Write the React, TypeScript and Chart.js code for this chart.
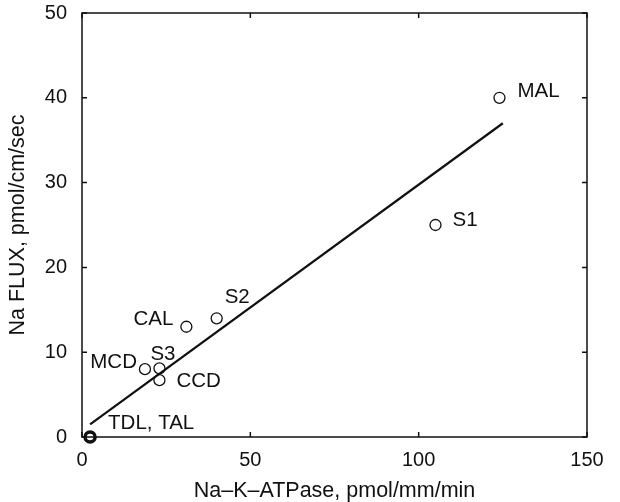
import React, { useEffect, useRef } from "react";
import { Chart, registerables } from "chart.js";

Chart.register(...registerables);

// ---- data ----
const segmentNames = ["MAL", "S1", "S2", "CAL", "MCD", "S3", "CCD", "TDL, TAL"];
const naKAtpase = [124, 105, 40, 31, 18.7, 23, 23, 2.4];
const naFlux = [40, 25, 14, 13, 8, 8.1, 6.7, 0];
const fitLineX = [2.4, 125];
const fitLineY = [1.5, 37];
const xTickValues = [0, 50, 100, 150];
const yTickValues = [0, 10, 20, 30, 40, 50];

// label placement relative to each point (style, not data)
const labelPlacement: [number, number, CanvasTextAlign][] = [
  [18, -6, "left"],
  [17, -5, "left"],
  [8, -21, "left"],
  [-13, -7, "right"],
  [-8, -7, "right"],
  [-9, -14, "left"],
  [17, 1, "left"],
  [18, -14, "left"],
];

const FONT = "'Liberation Sans', Arial, Helvetica, sans-serif";
const INK = "#111";

const framePlugin = {
  id: "frameTicks",
  afterDraw(chart: any) {
    const { ctx, chartArea } = chart;
    const { left, right, top, bottom } = chartArea;
    const xs = chart.scales.x;
    const ys = chart.scales.y;
    const tl = 5;
    ctx.save();
    ctx.strokeStyle = INK;
    ctx.lineWidth = 1.5;
    ctx.strokeRect(left, top, right - left, bottom - top);
    ctx.beginPath();
    xTickValues.forEach((v) => {
      const px = xs.getPixelForValue(v);
      ctx.moveTo(px, bottom);
      ctx.lineTo(px, bottom - tl);
      ctx.moveTo(px, top);
      ctx.lineTo(px, top + tl);
    });
    yTickValues.forEach((v) => {
      const py = ys.getPixelForValue(v);
      ctx.moveTo(left, py);
      ctx.lineTo(left + tl, py);
      ctx.moveTo(right, py);
      ctx.lineTo(right - tl, py);
    });
    ctx.stroke();
    ctx.restore();
  },
};

const labelPlugin = {
  id: "pointLabels",
  afterDatasetsDraw(chart: any) {
    const { ctx } = chart;
    const meta = chart.getDatasetMeta(0);
    ctx.save();
    ctx.fillStyle = INK;
    ctx.font = `20.5px ${FONT}`;
    ctx.textBaseline = "middle";
    meta.data.forEach((el: any, i: number) => {
      const [dx, dy, align] = labelPlacement[i];
      ctx.textAlign = align;
      ctx.fillText(segmentNames[i], el.x + dx, el.y + dy);
    });
    ctx.restore();
  },
};

export default function App() {
  const ref = useRef<HTMLCanvasElement | null>(null);

  useEffect(() => {
    if (!ref.current) return;
    const chart = new Chart(ref.current, {
      type: "scatter",
      data: {
        datasets: [
          {
            type: "scatter",
            data: naKAtpase.map((x, i) => ({ x, y: naFlux[i] })),
            pointStyle: "circle",
            pointRadius: segmentNames.map((n) => (n === "TDL, TAL" ? 5 : 5.5)),
            pointBorderWidth: segmentNames.map((n) => (n === "TDL, TAL" ? 3.5 : 1.3)),
            pointBorderColor: INK,
            pointBackgroundColor: "rgba(255,255,255,0)",
            clip: false as any,
            order: 1,
          } as any,
          {
            type: "line",
            data: fitLineX.map((x, i) => ({ x, y: fitLineY[i] })),
            borderColor: INK,
            borderWidth: 2.2,
            pointRadius: 0,
            showLine: true,
            fill: false,
            order: 2,
          } as any,
        ],
      },
      options: {
        animation: false,
        responsive: false,
        layout: { padding: { top: 13, right: 33, left: 0, bottom: 0 } },
        plugins: {
          legend: { display: false },
          tooltip: { enabled: false },
        },
        scales: {
          x: {
            type: "linear",
            min: 0,
            max: 150,
            afterBuildTicks: (s: any) => {
              s.ticks = xTickValues.map((v) => ({ value: v }));
            },
            afterFit: (s: any) => {
              s.height = 65;
              s.paddingLeft = 0;
              s.paddingRight = 0;
            },
            grid: { display: false, drawTicks: false },
            border: { display: false },
            ticks: {
              color: INK,
              font: { family: FONT, size: 20 },
              padding: 11,
              maxRotation: 0,
            },
            title: {
              display: true,
              text: "Na\u2013K\u2013ATPase, pmol/mm/min",
              color: INK,
              font: { family: FONT, size: 21.5, lineHeight: 1 },
              padding: { top: 0, bottom: 0 },
            },
          },
          y: {
            type: "linear",
            min: 0,
            max: 50,
            afterBuildTicks: (s: any) => {
              s.ticks = yTickValues.map((v) => ({ value: v }));
            },
            afterFit: (s: any) => {
              s.width = 82;
              s.paddingTop = 0;
              s.paddingBottom = 0;
            },
            grid: { display: false, drawTicks: false },
            border: { display: false },
            ticks: {
              color: INK,
              font: { family: FONT, size: 20 },
              padding: 15,
            },
            title: {
              display: true,
              text: "Na FLUX, pmol/cm/sec",
              color: INK,
              font: { family: FONT, size: 21.5, lineHeight: 1 },
              padding: { top: 7, bottom: 0 },
            },
          },
        },
      } as any,
      plugins: [framePlugin, labelPlugin],
    });
    return () => chart.destroy();
  }, []);

  return (
    <div style={{ position: "absolute", left: 0, top: 0, width: 620, height: 502, background: "#fff" }}>
      <canvas ref={ref} width={620} height={502} style={{ display: "block" }} />
    </div>
  );
}
